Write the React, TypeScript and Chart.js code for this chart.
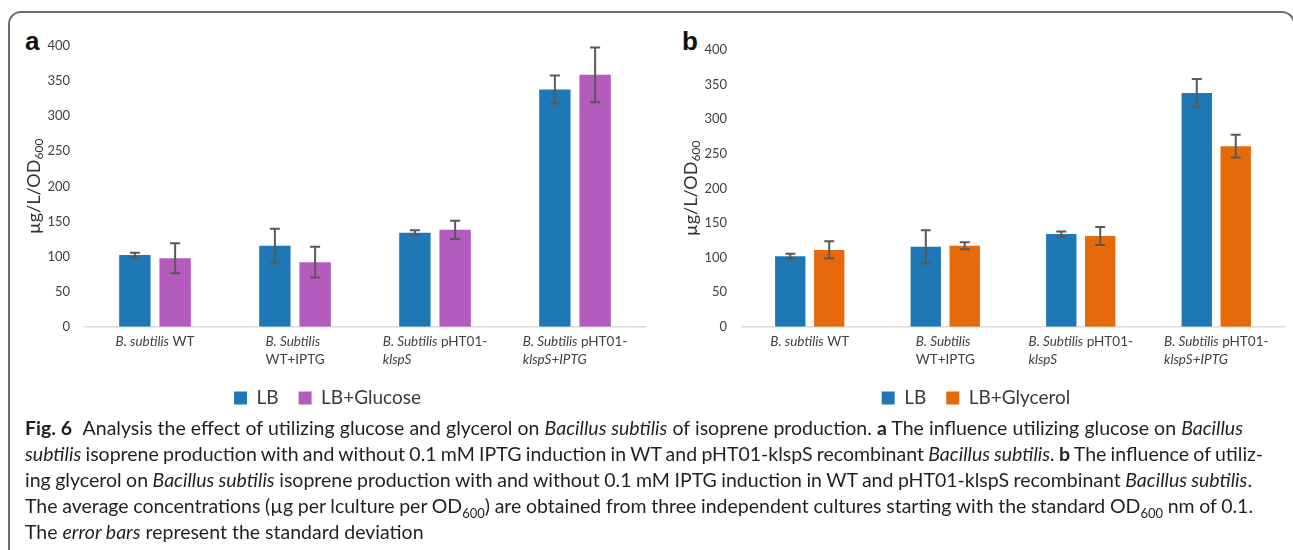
import React, { useEffect, useLayoutEffect, useRef } from "react";
import { Chart, registerables } from "chart.js";

Chart.register(...registerables);

// ---------------- DATA ----------------
const categories = [
  "B. subtilis WT",
  "B. Subtilis WT+IPTG",
  "B. Subtilis pHT01-klspS",
  "B. Subtilis pHT01-klspS+IPTG",
];

// x-axis label lines; each segment: [text, italic]
const xLabelLines: [string, boolean][][][] = [
  [[["B. subtilis", true], [" WT", false]]],
  [[["B. Subtilis", true]], [["WT+IPTG", false]]],
  [[["B. Subtilis", true], [" pHT01-", false]], [["klspS", true]]],
  [[["B. Subtilis", true], [" pHT01-", false]], [["klspS+IPTG", true]]],
];

const lbValues = [102, 115.5, 134, 338];
const lbErrors = [3.5, 24, 3.5, 20];

const glucoseValues = [97.5, 92, 138, 359];
const glucoseErrors = [21.5, 22, 13, 39];

const glycerolValues = [111, 117, 131, 261];
const glycerolErrors = [12.5, 5, 13, 16.5];

const yMin = 0;
const yMax = 400;
const yStep = 50;

const yTitleMain = "µg/L/OD";
const yTitleSub = "600";

// ---------------- STYLE ----------------
const FONT = "Lato, 'Open Sans', Roboto, sans-serif";
const BLUE = "#1f78b6";
const PURPLE = "#b45bbe";
const ORANGE = "#e66a0c";
const TEXT = "#404040";

const errorBarPlugin = {
  id: "errorBars",
  afterDatasetsDraw(chart: any) {
    const { ctx } = chart;
    const ys = chart.scales.y;
    chart.data.datasets.forEach((ds: any, di: number) => {
      const meta = chart.getDatasetMeta(di);
      const errs: number[] = ds.errors || [];
      meta.data.forEach((bar: any, i: number) => {
        const v = ds.data[i];
        const e = errs[i] || 0;
        const x = bar.x;
        const yt = ys.getPixelForValue(v + e);
        const yb = ys.getPixelForValue(v - e);
        ctx.save();
        ctx.strokeStyle = "#595959";
        ctx.lineWidth = 2;
        ctx.beginPath();
        ctx.moveTo(x, yt);
        ctx.lineTo(x, yb);
        ctx.moveTo(x - 5, yt);
        ctx.lineTo(x + 5, yt);
        ctx.moveTo(x - 5, yb);
        ctx.lineTo(x + 5, yb);
        ctx.stroke();
        ctx.restore();
      });
    });
  },
};

const segFont = (italic: boolean) => `${italic ? "italic " : ""}13.5px ${FONT}`;

const xLabelPlugin = {
  id: "xLabels",
  afterDraw(chart: any) {
    const { ctx, chartArea } = chart;
    const xs = chart.scales.x;
    ctx.save();
    ctx.fillStyle = TEXT;
    ctx.textBaseline = "middle";
    ctx.textAlign = "left";
    xLabelLines.forEach((lines, i) => {
      const cx = xs.getPixelForValue(i);
      const widths = lines.map((line) =>
        line.reduce((w, [t, it]) => {
          ctx.font = segFont(it);
          return w + ctx.measureText(t).width;
        }, 0)
      );
      const bw = Math.max(...widths);
      const left = cx - bw / 2;
      lines.forEach((line, li) => {
        let x = left;
        const y = chartArea.bottom + 15 + li * 17.5;
        line.forEach(([t, it]) => {
          ctx.font = segFont(it);
          ctx.fillText(t, x, y);
          x += ctx.measureText(t).width;
        });
      });
    });
    ctx.restore();
  },
};

const yTitlePlugin = {
  id: "yTitle",
  afterDraw(chart: any) {
    const { ctx, chartArea } = chart;
    const cx = chartArea.left - 52;
    const cy = (chartArea.top + chartArea.bottom) / 2;
    ctx.save();
    ctx.translate(cx, cy);
    ctx.rotate(-Math.PI / 2);
    ctx.fillStyle = "#333333";
    ctx.textBaseline = "alphabetic";
    ctx.textAlign = "left";
    ctx.font = `18px ${FONT}`;
    const w1 = ctx.measureText(yTitleMain).width;
    ctx.font = `12px ${FONT}`;
    const w2 = ctx.measureText(yTitleSub).width;
    const x0 = -(w1 + w2) / 2;
    ctx.font = `18px ${FONT}`;
    ctx.fillText(yTitleMain, x0, 6.5);
    ctx.font = `12px ${FONT}`;
    ctx.fillText(yTitleSub, x0 + w1, 10);
    ctx.restore();
  },
};

type PanelProps = {
  left: number;
  top: number;
  width: number;
  height: number;
  yWidth: number;
  padTop: number;
  padRight: number;
  secondLabel: string;
  secondValues: number[];
  secondErrors: number[];
  secondColor: string;
};

function BarPanel(p: PanelProps) {
  const ref = useRef<HTMLCanvasElement | null>(null);
  useEffect(() => {
    if (!ref.current) return;
    const chart = new Chart(ref.current, {
      type: "bar",
      data: {
        labels: categories,
        datasets: [
          {
            label: "LB",
            data: lbValues,
            errors: lbErrors,
            backgroundColor: BLUE,
            borderWidth: 0,
            categoryPercentage: 0.575,
            barPercentage: 0.78,
          } as any,
          {
            label: p.secondLabel,
            data: p.secondValues,
            errors: p.secondErrors,
            backgroundColor: p.secondColor,
            borderWidth: 0,
            categoryPercentage: 0.575,
            barPercentage: 0.78,
          } as any,
        ],
      },
      options: {
        responsive: false,
        animation: false,
        layout: { padding: { left: 0, right: p.padRight, top: p.padTop, bottom: 2.5 } },
        plugins: {
          legend: {
            position: "bottom",
            labels: {
              boxWidth: 13,
              boxHeight: 13,
              padding: 20,
              color: "#3a3a3a",
              font: { family: FONT, size: 19 },
            },
          },
          tooltip: { enabled: false },
        },
        scales: {
          x: {
            grid: { display: false },
            border: { display: true, color: "#d9d9d9", width: 1.5 },
            ticks: { display: false },
            afterFit: (s: any) => {
              s.height = 41.8;
            },
          },
          y: {
            min: yMin,
            max: yMax,
            ticks: {
              stepSize: yStep,
              padding: 7,
              color: TEXT,
              font: { family: FONT, size: 13 },
            },
            grid: { display: false },
            border: { display: false },
            afterFit: (s: any) => {
              s.width = p.yWidth;
            },
          },
        },
      } as any,
      plugins: [errorBarPlugin, xLabelPlugin, yTitlePlugin],
    });
    return () => chart.destroy();
  }, []);
  return (
    <canvas
      ref={ref}
      width={p.width}
      height={p.height}
      style={{ position: "absolute", left: p.left, top: p.top, width: p.width, height: p.height }}
    />
  );
}

// caption lines: segments with style flags
type Seg = { t: string; b?: boolean; i?: boolean; sub?: boolean; gap?: boolean };
const captionLines: Seg[][] = [
  [
    { t: "Fig. 6", b: true, gap: true },
    { t: " Analysis the effect of utilizing glucose and glycerol on " },
    { t: "Bacillus subtilis", i: true },
    { t: " of isoprene production. " },
    { t: "a", b: true },
    { t: " The influence utilizing glucose on " },
    { t: "Bacillus", i: true },
  ],
  [
    { t: "subtilis", i: true },
    { t: " isoprene production with and without 0.1 mM IPTG induction in WT and pHT01-klspS recombinant " },
    { t: "Bacillus subtilis", i: true },
    { t: ". " },
    { t: "b", b: true },
    { t: " The influence of utiliz-" },
  ],
  [
    { t: "ing glycerol on " },
    { t: "Bacillus subtilis", i: true },
    { t: " isoprene production with and without 0.1 mM IPTG induction in WT and pHT01-klspS recombinant " },
    { t: "Bacillus subtilis", i: true },
    { t: "." },
  ],
  [
    { t: "The average concentrations (µg per lculture per OD" },
    { t: "600", sub: true },
    { t: ") are obtained from three independent cultures starting with the standard OD" },
    { t: "600", sub: true },
    { t: " nm of 0.1." },
  ],
  [
    { t: "The " },
    { t: "error bars", i: true },
    { t: " represent the standard deviation" },
  ],
];
const captionRightEdges = [1243, 1263, 1252, 1253, 0];
const CAPTION_LEFT = 25;

function Caption() {
  const refs = useRef<(HTMLSpanElement | null)[]>([]);
  useLayoutEffect(() => {
    captionLines.forEach((line, li) => {
      const el = refs.current[li];
      const right = captionRightEdges[li];
      if (!el || !right) return;
      el.style.wordSpacing = "0px";
      const natural = el.getBoundingClientRect().width;
      const text = line.map((s) => s.t).join("");
      const spaces = (text.match(/ /g) || []).length;
      if (spaces > 0) {
        const target = right - CAPTION_LEFT;
        el.style.wordSpacing = `${(target - natural) / spaces}px`;
      }
    });
  }, []);
  return (
    <>
      {captionLines.map((line, li) => (
        <div
          key={li}
          style={{
            position: "absolute",
            left: CAPTION_LEFT,
            top: 414.5 + li * 26,
            whiteSpace: "pre",
            fontFamily: FONT,
            fontSize: 19.5,
            lineHeight: "26px",
            color: "#231f20",
          }}
        >
          <span ref={(el) => { refs.current[li] = el; }}>
            {line.map((s, si) => (
              <span
                key={si}
                style={{
                  fontWeight: s.b ? 700 : 400,
                  fontStyle: s.i ? "italic" : "normal",
                  fontSize: s.sub ? 13 : undefined,
                  position: s.sub ? "relative" : undefined,
                  top: s.sub ? 5 : undefined,
                  marginRight: s.gap ? 6 : undefined,
                }}
              >
                {s.t}
              </span>
            ))}
          </span>
        </div>
      ))}
    </>
  );
}

export default function App() {
  return (
    <div
      style={{
        position: "absolute",
        left: 0,
        top: 0,
        width: 1293,
        height: 550,
        overflow: "hidden",
        background: "#ffffff",
      }}
    >
      <div
        style={{
          position: "absolute",
          left: 8,
          top: 11,
          width: 1287,
          height: 620,
          boxSizing: "border-box",
          border: "2px solid #6e6e6e",
          borderRadius: 13,
        }}
      />
      <div
        style={{
          position: "absolute",
          left: 25,
          top: 28.8,
          fontFamily: "'Liberation Sans', Arial, sans-serif",
          fontWeight: 700,
          fontSize: 26,
          lineHeight: "25px",
          color: "#111",
        }}
      >
        a
      </div>
      <div
        style={{
          position: "absolute",
          left: 682,
          top: 28.8,
          fontFamily: "'Liberation Sans', Arial, sans-serif",
          fontWeight: 700,
          fontSize: 26,
          lineHeight: "25px",
          color: "#111",
        }}
      >
        b
      </div>
      <BarPanel
        left={10}
        top={20}
        width={640}
        height={400}
        yWidth={75}
        padTop={26}
        padRight={5}
        secondLabel="LB+Glucose"
        secondValues={glucoseValues}
        secondErrors={glucoseErrors}
        secondColor={PURPLE}
      />
      <BarPanel
        left={668}
        top={20}
        width={625}
        height={400}
        yWidth={74}
        padTop={30}
        padRight={9}
        secondLabel="LB+Glycerol"
        secondValues={glycerolValues}
        secondErrors={glycerolErrors}
        secondColor={ORANGE}
      />
      <Caption />
    </div>
  );
}
